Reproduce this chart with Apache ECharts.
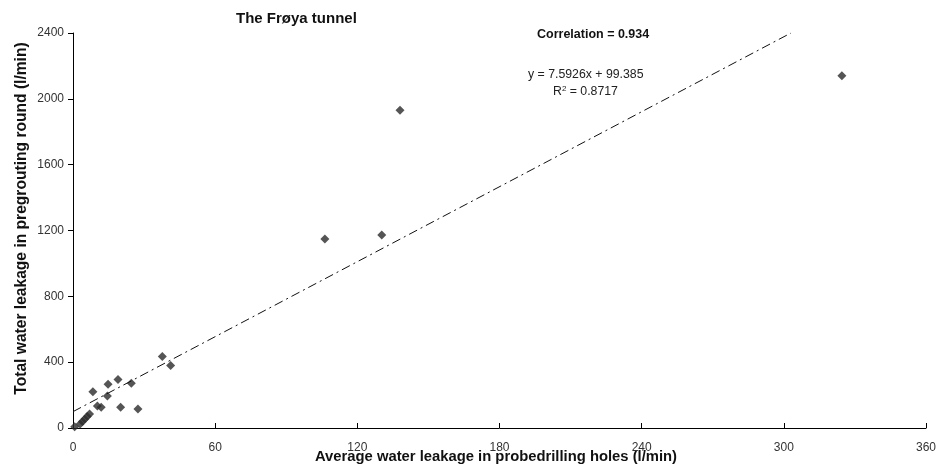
<!DOCTYPE html>
<html>
<head>
<meta charset="utf-8">
<script src="https://cdn.jsdelivr.net/npm/echarts@6/dist/echarts.min.js"></script>
<style>
  html, body { margin: 0; padding: 0; background: #fff; }
  #chart { width: 938px; height: 468px; }
</style>
</head>
<body>
<div id="chart"></div>
<script>
// Average leakage in probe-drilling holes (l/min)
const probeLeakage = [0.7, 3, 4, 5, 6, 7, 8.4, 10.3, 11.9, 14.5, 14.8, 19, 20.1, 24.6, 27.4, 37.7, 41.2, 106.3, 130.3, 138, 324.5];
// Total leakage in the pregrouting round (l/min)
const roundLeakage = [8, 25, 40, 55, 70, 85, 221, 134, 126, 195, 266, 294, 126, 272, 115, 434, 379, 1149, 1173, 1930, 2140];

// Linear regression reported on the chart
const trendSlope = [7.5926];
const trendIntercept = [99.385];
const xTicks = [0, 60, 120, 180, 240, 300, 360];
const yTicks = [0, 400, 800, 1200, 1600, 2000, 2400];

const points = probeLeakage.map((x, i) => [x, roundLeakage[i]]);
const yMax = yTicks[yTicks.length - 1];
const xEnd = (yMax - trendIntercept[0]) / trendSlope[0];
const trend = [0, xEnd].map(x => [x, trendSlope[0] * x + trendIntercept[0]]);

const FONT = 'Liberation Sans, Arial, sans-serif';
const chart = echarts.init(document.getElementById('chart'), null, { renderer: 'canvas' });
chart.setOption({
  animation: false,
  backgroundColor: '#fff',
  grid: { left: 73, right: 12, top: 33, bottom: 40, containLabel: false, outerBoundsMode: 'none' },
  xAxis: {
    type: 'value', min: xTicks[0], max: xTicks[xTicks.length - 1], interval: 60,
    name: 'Average water leakage in probedrilling holes (l/min)',
    nameLocation: 'middle', nameGap: 21, nameMoveOverlap: false,
    nameTextStyle: { fontFamily: FONT, fontWeight: 'bold', fontSize: 14.8, color: '#111', padding: [0, 7, 0, 0] },
    axisLine: { lineStyle: { color: '#000', width: 1 } },
    axisTick: { inside: true, length: 5, lineStyle: { color: '#000' } },
    axisLabel: { fontFamily: FONT, fontSize: 12, color: '#333', margin: 14, formatter: v => String(v) },
    splitLine: { show: false }
  },
  yAxis: {
    type: 'value', min: yTicks[0], max: yMax, interval: 400,
    name: 'Total water leakage in pregrouting round (l/min)',
    nameLocation: 'middle', nameGap: 43, nameRotate: 90, nameMoveOverlap: false,
    nameTextStyle: { fontFamily: FONT, fontWeight: 'bold', fontSize: 15.6, color: '#111', padding: [0, 0, 0, 24] },
    axisLine: { show: true, lineStyle: { color: '#000', width: 1 } },
    axisTick: { show: true, length: 5, lineStyle: { color: '#000' } },
    axisLabel: { fontFamily: FONT, fontSize: 12, color: '#333', margin: 9, formatter: v => String(v) },
    splitLine: { show: false }
  },
  title: [
    { text: 'The Frøya tunnel', left: 231, top: 6,
      textStyle: { fontFamily: FONT, fontWeight: 'bold', fontSize: 15, color: '#111' } },
    { text: 'Correlation = 0.934', left: 532, top: 23,
      textStyle: { fontFamily: FONT, fontWeight: 'bold', fontSize: 12.5, color: '#111' } }
  ],
  graphic: [
    { type: 'text', left: 528, top: 69,
      style: { text: 'y = 7.5926x + 99.385', font: '12.3px ' + FONT, fill: '#222' } },
    { type: 'text', left: 553, top: 85,
      style: { text: 'R{s|2} = 0.8717', font: '12.3px ' + FONT, fill: '#222',
        rich: { s: { fontSize: 8, verticalAlign: 'top', padding: [0, 0, 6, 0] } } } }
  ],
  series: [
    {
      type: 'line', data: trend, showSymbol: false, silent: true,
      lineStyle: { color: '#111', width: 1, type: [9, 4, 2, 4] }
    },
    {
      type: 'scatter', data: points, symbol: 'diamond', symbolSize: 9,
      itemStyle: { color: '#2a2a2a' }
    }
  ]
});
</script>
</body>
</html>
